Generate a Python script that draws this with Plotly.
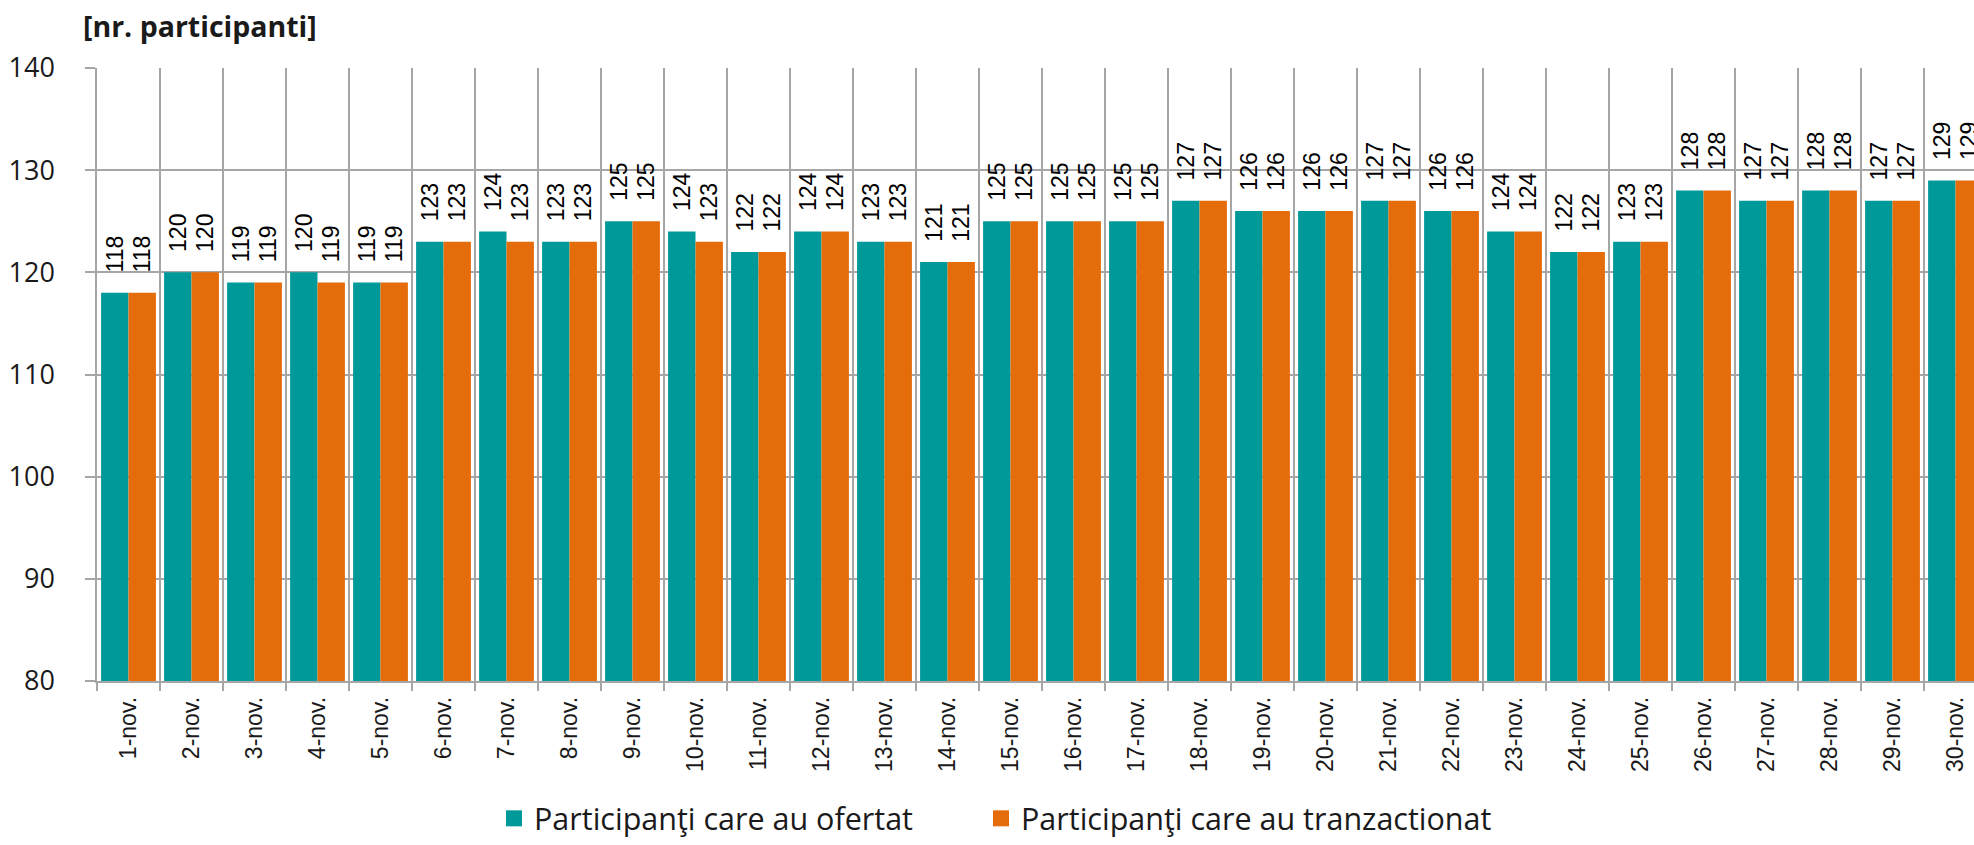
import plotly.graph_objects as go

days = [f"{d}-nov." for d in range(1, 31)]
ofertat = [118, 120, 119, 120, 119, 123, 124, 123, 125, 124,
           122, 124, 123, 121, 125, 125, 125, 127, 126, 126,
           127, 126, 124, 122, 123, 128, 127, 128, 127, 129]
tranzactionat = [118, 120, 119, 119, 119, 123, 123, 123, 125, 123,
                 122, 124, 123, 121, 125, 125, 125, 127, 126, 126,
                 127, 126, 124, 122, 123, 128, 127, 128, 127, 129]
series_names = ["Participanţi care au ofertat", "Participanţi care au tranzactionat"]
colors = ["#009999", "#E46C0A"]
y_ticks = [80, 90, 100, 110, 120, 130, 140]

W, H = 1974, 845
L, T, B = 97, 68, 164
cat_w = 63.0
plot_w = W - L

fig = go.Figure()
for vals, col in zip([ofertat, tranzactionat], colors):
    fig.add_trace(go.Bar(
        x=days, y=vals, marker=dict(color=col, line=dict(width=0)),
        texttemplate="\u00a0\u00a0\u2009%{y}", textposition="outside", textangle=-90,
        textfont=dict(family="Liberation Sans, Arial", size=23, color="#000000"),
        constraintext="none", cliponaxis=True, showlegend=False,
    ))

for i, (name, col) in enumerate(zip(series_names, colors)):
    fig.add_trace(go.Scatter(
        x=[None], y=[None], mode="markers", name=name,
        marker=dict(symbol="square", size=20, color=col),
        legend="legend" if i == 0 else "legend2",
    ))

grid = "#A6A6A6"
legend_common = dict(orientation="h", xref="container", yref="container",
                     xanchor="left", y=0, yanchor="bottom",
                     font=dict(family="Open Sans", size=30.5, color="#1a1a1a"),
                     bgcolor="rgba(0,0,0,0)", borderwidth=0)
fig.update_layout(
    width=W, height=H, autosize=False,
    margin=dict(l=L, r=0, t=T, b=B, pad=0, autoexpand=False),
    paper_bgcolor="white", plot_bgcolor="white",
    barmode="group", bargap=0.13, bargroupgap=0,
    title=dict(text="<b>[nr. participanti]</b>", x=83 / W, xanchor="left",
               xref="container", y=1 - 27 / H, yanchor="middle", yref="container",
               font=dict(family="Open Sans", size=28.5, color="#1a1a1a")),
    xaxis=dict(type="category", range=[-0.5, -0.5 + plot_w / cat_w],
               tickson="boundaries", showgrid=True, gridcolor=grid, gridwidth=1.5,
               ticks="outside", ticklen=8, tickcolor=grid, tickwidth=1.5,
               showline=True, linecolor=grid, linewidth=1.5, ticklabelstandoff=5,
               tickangle=-90, tickfont=dict(family="Liberation Sans, Arial", size=23, color="#1a1a1a")),
    yaxis=dict(range=[80, 140], tickvals=y_ticks, showgrid=True, gridcolor=grid, gridwidth=1.5,
               ticks="outside", ticklen=10, tickcolor=grid, tickwidth=1.5,
               showline=True, linecolor=grid, linewidth=1.5, zeroline=False,
               ticklabelstandoff=25,
               tickfont=dict(family="Open Sans", size=27, color="#1a1a1a")),
    legend=dict(x=494 / W, **legend_common),
    legend2=dict(x=981 / W, **legend_common),
)

fig.write_html("out.html", config={"displayModeBar": False},
               post_script="document.body.style.margin='0';document.body.style.overflow='hidden';")
